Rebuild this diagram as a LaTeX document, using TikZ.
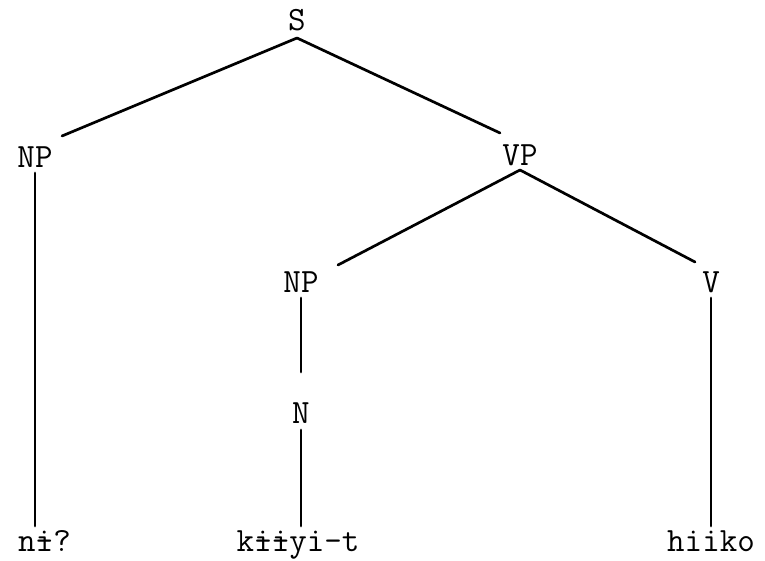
\documentclass[tikz,border=0pt]{standalone}
\newcommand\ibar{\rlap{i}-}
\begin{document}
\begin{tikzpicture}[x=1pt,y=-1pt,
  lab/.style={font=\ttfamily\fontsize{34}{34}\selectfont, inner sep=0pt, anchor=center},
  edge/.style={line width=2.7pt, line cap=round}]
\useasboundingbox (0,0) rectangle (765,561);
\fill[white] (0,0) rectangle (765,561);
\node[lab] (s) at (297,20) {S};
\node[lab] (np1) at (35,157) {NP};
\node[lab] (vp) at (520,155) {VP};
\node[lab] (np2) at (301,282) {NP};
\node[lab] (v) at (711,282) {V};
\node[lab] (n) at (301,413) {N};
\node[lab, anchor=base west] (l1) at (18,551) {n\ibar?};
\node[lab, anchor=base] (l2) at (298,551) {k\ibar\ibar yi-t};
\node[lab, anchor=base] (l3) at (711,551) {hiiko};
\coordinate (s1) at (297,38);
\coordinate (vpb) at (520,170);
\coordinate (np1b) at (35,173);
\coordinate (np1e) at (35,526);
\coordinate (np2b) at (301,298);
\coordinate (np2e) at (301,372);
\coordinate (nb) at (301,430);
\coordinate (ne) at (301,526);
\coordinate (vb) at (711,298);
\coordinate (ve) at (711,526);
\coordinate (np1t) at (62,136);
\coordinate (vpt) at (500,133);
\coordinate (np2t) at (338,265);
\coordinate (vt) at (695,262);
\draw[edge] (s1) -- (np1t);
\draw[edge] (s1) -- (vpt);
\draw[edge] (vpb) -- (np2t);
\draw[edge] (vpb) -- (vt);
\draw[edge] (np1b) -- (np1e);
\draw[edge] (np2b) -- (np2e);
\draw[edge] (nb) -- (ne);
\draw[edge] (vb) -- (ve);
\end{tikzpicture}
\end{document}
